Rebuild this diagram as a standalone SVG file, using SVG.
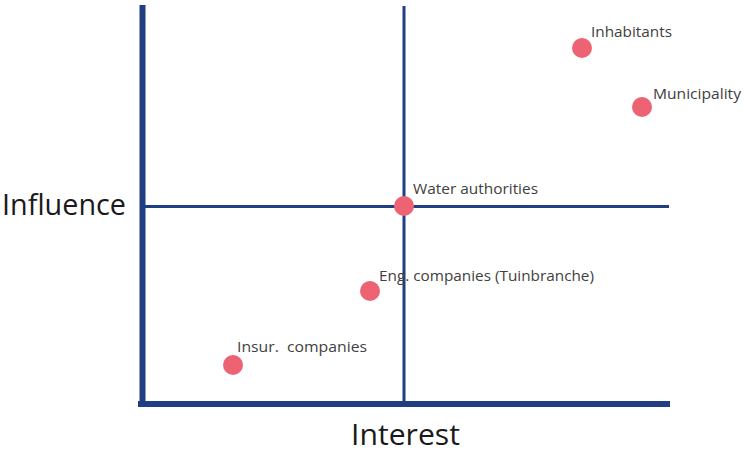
<svg xmlns="http://www.w3.org/2000/svg" width="744" height="454" viewBox="0 0 744 454">
<style>
.ax{stroke:#1f3f82;fill:none}
.dot{fill:#ee6374}
.lb{font-family:"Open Sans","Liberation Sans",sans-serif;font-size:14px;fill:#404040}
.ttl{font-family:"Open Sans","Liberation Sans",sans-serif;font-size:29px;fill:#1a1a1a}
</style>
<rect width="744" height="454" fill="#fff"/>
<g id="connectors">
<line class="ax" x1="404" y1="6" x2="404" y2="404" stroke-width="3"/>
<line class="ax" x1="142" y1="206.5" x2="669" y2="206.5" stroke-width="3"/>
<line class="ax" x1="142.5" y1="5" x2="142.5" y2="407" stroke-width="6"/>
<line class="ax" x1="138" y1="404" x2="670" y2="404" stroke-width="6"/>
</g>
<g id="axis-influence"><text class="ttl" x="2" y="215" textLength="124" lengthAdjust="spacingAndGlyphs">Influence</text></g>
<g id="axis-interest"><text class="ttl" x="351" y="445" textLength="109" lengthAdjust="spacingAndGlyphs">Interest</text></g>
<g id="inhabitants"><circle class="dot" cx="582" cy="48" r="10"/><text class="lb" x="591" y="37" textLength="81" lengthAdjust="spacingAndGlyphs">Inhabitants</text></g>
<g id="municipality"><circle class="dot" cx="642" cy="107" r="10"/><text class="lb" x="653" y="99" textLength="88" lengthAdjust="spacingAndGlyphs">Municipality</text></g>
<g id="water-authorities"><circle class="dot" cx="404" cy="206" r="10"/><text class="lb" x="413" y="194" textLength="125" lengthAdjust="spacingAndGlyphs">Water authorities</text></g>
<g id="eng-companies"><circle class="dot" cx="370" cy="291" r="10"/><text class="lb" x="379" y="281" textLength="215" lengthAdjust="spacingAndGlyphs">Eng. companies (Tuinbranche)</text></g>
<g id="insur-companies"><circle class="dot" cx="233" cy="365" r="10"/><text class="lb" x="237" y="352" xml:space="preserve" textLength="130" lengthAdjust="spacingAndGlyphs">Insur.  companies</text></g>
</svg>
